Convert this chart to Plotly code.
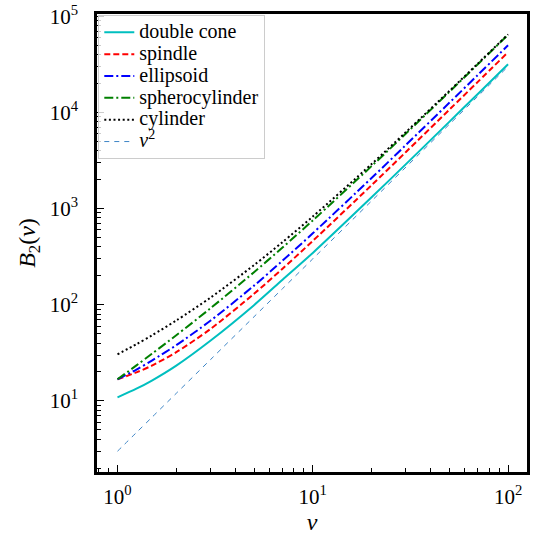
import plotly.graph_objects as go

# aspect ratio values
nu = [1, 1.25, 1.5, 2, 3, 5, 7, 10, 20, 30, 50, 70, 100]

double_cone = [10.9, 13.4, 16.3, 23.3, 42.5, 99, 182, 346, 1310, 2900, 7970, 15550, 31600]
spindle = [16.8, 19.8, 23.3, 32.1, 56.2, 130, 237, 461, 1751, 3879, 10650, 20770, 42230]
ellipsoid = [16.8, 21.2, 26.3, 38.0, 68.5, 158, 287, 553, 2078, 4590, 12570, 24500, 49800]
spherocylinder = [16.8, 23.4, 30.9, 48.2, 92.2, 218, 394, 752, 2762, 6030, 16330, 31670, 64090]
cylinder = [30.5, 38.9, 48.0, 68.6, 119, 258, 448, 826, 2904, 6238, 16680, 32140, 64770]
nu_sq = [3, 4.69, 6.75, 12, 27, 75, 147, 300, 1200, 2700, 7500, 14700, 30000]

x_tickvals = [1, 10, 100]
x_ticktext = ["10<sup>0</sup>", "10<sup>1</sup>", "10<sup>2</sup>"]
y_tickvals = [10, 100, 1000, 10000, 100000]
y_ticktext = ["10<sup>1</sup>", "10<sup>2</sup>", "10<sup>3</sup>", "10<sup>4</sup>", "10<sup>5</sup>"]

x_minor = [0.8, 0.9] + [m * 10 ** k for k in range(0, 3) for m in range(2, 10) if m * 10 ** k < 126]
y_minor = [m * 10 ** k for k in range(0, 5) for m in range(2, 10) if m * 10 ** k > 1.8]

X_RANGE = [-0.105, 2.097]
Y_RANGE = [0.261, 5.023]

FONT = "'Liberation Serif', 'Times New Roman', 'DejaVu Serif', serif"

def big(t):
    return '<span style="font-size:20px">' + t + "</span>"

series = [
    ("double cone", double_cone, dict(color="#00bfbf", width=2, dash="solid")),
    ("spindle", spindle, dict(color="#ff0000", width=2, dash="6px,3px")),
    ("ellipsoid", ellipsoid, dict(color="#0000ff", width=2, dash="9px,3px,2px,3px")),
    ("spherocylinder", spherocylinder, dict(color="#008000", width=2, dash="9px,3px,2px,3px")),
    ("cylinder", cylinder, dict(color="#000000", width=2, dash="2px,2.6px")),
    ("<i>ν</i><sup>2</sup>", nu_sq, dict(color="#3d85c6", width=1, dash="5px,5px")),
]

fig = go.Figure()
for name, vals, line in series:
    ln = dict(line, shape="spline", smoothing=0.8)
    fig.add_trace(go.Scatter(x=nu, y=vals, mode="lines", name=big(name), line=ln))

# invisible trace to carry the minor-tick overlay axes
fig.add_trace(go.Scatter(x=[nu[0]], y=[nu_sq[0]], xaxis="x2", yaxis="y2", mode="markers",
                         marker=dict(opacity=0), showlegend=False, hoverinfo="skip"))

axis_common = dict(
    type="log",
    automargin=False,
    showgrid=False,
    zeroline=False,
    showline=True,
    linecolor="black",
    linewidth=2.5,
    mirror=True,
    ticks="inside",
    ticklen=7,
    tickwidth=1.3,
    tickcolor="black",
    ticklabeloverflow="allow",
    tickfont=dict(family=FONT, size=21, color="black"),
)

fig.update_layout(
    xaxis=dict(
        **axis_common,
        range=X_RANGE,
        tickmode="array",
        tickvals=x_tickvals,
        ticktext=x_ticktext,
        ticklabelstandoff=4,
        title=dict(text="<i>ν</i>", font=dict(family=FONT, size=24, color="black"), standoff=2),
    ),
    yaxis=dict(
        **axis_common,
        range=Y_RANGE,
        tickmode="array",
        tickvals=y_tickvals,
        ticktext=y_ticktext,
        ticklabelstandoff=12,
        title=dict(text="<i>B</i><sub>2</sub>(<i>ν</i>)", font=dict(family=FONT, size=24, color="black"), standoff=8),
    ),
    xaxis2=dict(
        type="log", overlaying="x", anchor="y", side="bottom", range=X_RANGE,
        automargin=False, showgrid=False, zeroline=False, showline=False,
        tickmode="array", tickvals=x_minor, ticks="inside", ticklen=4, tickwidth=1,
        tickcolor="black", showticklabels=False,
    ),
    yaxis2=dict(
        type="log", overlaying="y", anchor="x", side="left", range=Y_RANGE,
        automargin=False, showgrid=False, zeroline=False, showline=False,
        tickmode="array", tickvals=y_minor, ticks="inside", ticklen=4, tickwidth=1,
        tickcolor="black", showticklabels=False,
    ),
    width=538,
    height=535,
    margin=dict(l=97, r=11, t=14, b=63, autoexpand=False),
    paper_bgcolor="white",
    plot_bgcolor="white",
    showlegend=True,
    legend=dict(
        x=0.003, y=0.997, xanchor="left", yanchor="top",
        bgcolor="rgba(255,255,255,0.8)",
        bordercolor="#cccccc", borderwidth=1,
        font=dict(family=FONT, size=14.5, color="black"),
        tracegroupgap=0,
        itemwidth=30,
    ),
    font=dict(family=FONT),
)

fig.write_html("out.html", config={"displayModeBar": False},
               post_script="document.body.style.margin='0';")
